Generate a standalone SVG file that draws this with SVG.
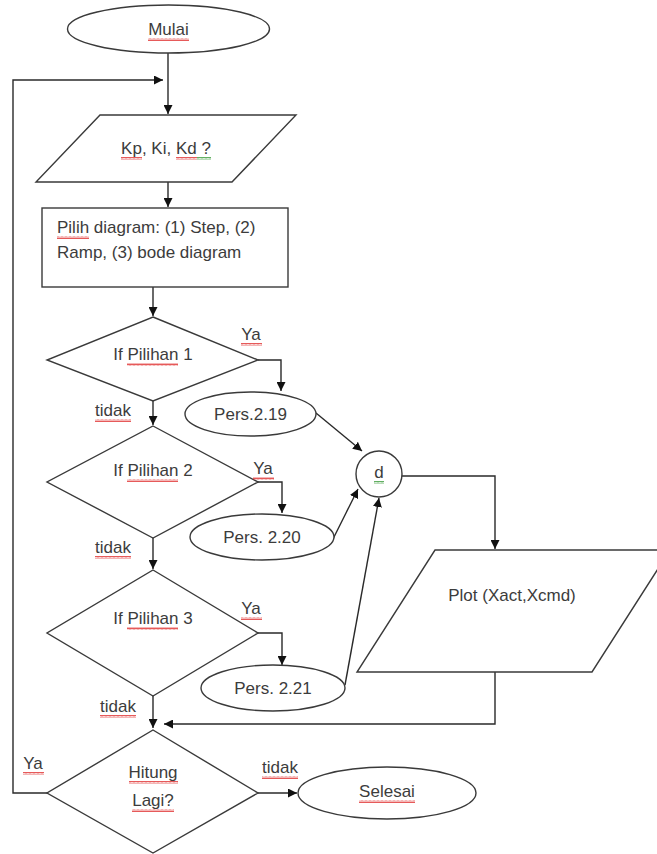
<svg xmlns="http://www.w3.org/2000/svg" width="657" height="854" viewBox="0 0 657 854">
<style>
.s{fill:#fff;stroke:#3a3a3a;stroke-width:1.4}
.c{fill:none;stroke:#2a2a2a;stroke-width:1.4}
.t{font-family:"Liberation Sans",Arial,sans-serif;font-size:17px;fill:#3c3c3c;text-anchor:middle;dominant-baseline:central}
.tl{text-anchor:start}
.wr{fill:url(#wavyR)}
.wg{fill:url(#wavyG)}
</style>
<defs>
<marker id="ah" viewBox="0 0 10 10" refX="10" refY="5" markerWidth="9" markerHeight="9" markerUnits="userSpaceOnUse" orient="auto">
<path d="M0,0 L10,5 L0,10 z" fill="#111"/>
</marker>
<pattern id="wavyR" width="4" height="3" patternUnits="userSpaceOnUse">
<path d="M0,2.5 L1,0.5 L2,2.5 L3,0.5 L4,2.5" fill="none" stroke="#e03030" stroke-width="0.8"/>
</pattern>
<pattern id="wavyG" width="4" height="3" patternUnits="userSpaceOnUse">
<path d="M0,2.5 L1,0.5 L2,2.5 L3,0.5 L4,2.5" fill="none" stroke="#3a9a3a" stroke-width="0.8"/>
</pattern>
</defs>

<g id="connectors">
<line class="c" x1="168" y1="53" x2="168" y2="114" marker-end="url(#ah)"/>
<polyline class="c" points="47,793 13,793 13,80 163,80" marker-end="url(#ah)"/>
<line class="c" x1="168" y1="182" x2="168" y2="207" marker-end="url(#ah)"/>
<line class="c" x1="153" y1="287" x2="153" y2="316" marker-end="url(#ah)"/>
<polyline class="c" points="258,360 281,360 281,391" marker-end="url(#ah)"/>
<line class="c" x1="153" y1="401" x2="153" y2="425" marker-end="url(#ah)"/>
<polyline class="c" points="258,482 282,482 282,513" marker-end="url(#ah)"/>
<line class="c" x1="153" y1="538" x2="153" y2="569" marker-end="url(#ah)"/>
<polyline class="c" points="258,633 282,633 282,665" marker-end="url(#ah)"/>
<line class="c" x1="153" y1="696" x2="153" y2="728" marker-end="url(#ah)"/>
<polyline class="c" points="495,672 495,724 164,724" marker-end="url(#ah)"/>
<line class="c" x1="258" y1="793" x2="297" y2="793" marker-end="url(#ah)"/>
<line class="c" x1="316" y1="413" x2="362" y2="451" marker-end="url(#ah)"/>
<line class="c" x1="333" y1="539" x2="358" y2="489" marker-end="url(#ah)"/>
<line class="c" x1="345" y1="685" x2="379" y2="498" marker-end="url(#ah)"/>
<polyline class="c" points="402,476 495,476 495,549" marker-end="url(#ah)"/>
</g>

<g id="mulai">
<ellipse class="s" cx="168.5" cy="29" rx="101" ry="24"/>
<text class="t" x="168.5" y="29">Mulai</text>
<rect class="wr" x="148" y="38" width="41" height="3"/>
</g>

<g id="input-k">
<polygon class="s" points="100,115 296,115 232,182 36,182"/>
<text class="t" x="166" y="148">Kp, Ki, Kd ?</text>
<rect class="wr" x="121" y="157" width="21" height="3"/>
<rect class="wr" x="176" y="157" width="21" height="3"/>
<rect class="wg" x="197" y="157" width="14" height="3"/>
</g>

<g id="pilih">
<rect class="s" x="42" y="208" width="246" height="79"/>
<text class="t tl" x="57" y="227">Pilih diagram: (1) Step, (2)</text>
<text class="t tl" x="57" y="252">Ramp, (3) bode diagram</text>
<rect class="wr" x="57" y="236" width="32" height="3"/>
</g>

<g id="if1">
<polygon class="s" points="153,317 258,360 153,401 47,360"/>
<text class="t" x="153" y="354">If Pilihan 1</text>
<rect class="wr" x="127" y="363" width="51" height="3"/>
</g>

<g id="if2">
<polygon class="s" points="153,426 258,482 153,538 47,482"/>
<text class="t" x="153" y="470">If Pilihan 2</text>
<rect class="wr" x="127" y="479" width="51" height="3"/>
</g>

<g id="if3">
<polygon class="s" points="153,570 258,633 153,696 47,633"/>
<text class="t" x="153" y="618">If Pilihan 3</text>
<rect class="wr" x="127" y="627" width="51" height="3"/>
</g>

<g id="hitung">
<polygon class="s" points="153,730 258,793 153,853 47,793"/>
<text class="t" x="153" y="772">Hitung</text>
<text class="t" x="153" y="800">Lagi?</text>
<rect class="wr" x="129" y="781" width="49" height="3"/>
<rect class="wr" x="132" y="809" width="42" height="3"/>
</g>

<g id="pers219">
<ellipse class="s" cx="250.5" cy="414" rx="65.5" ry="22"/>
<text class="t" x="250.5" y="414">Pers.2.19</text>
</g>

<g id="pers220">
<ellipse class="s" cx="262" cy="537" rx="72" ry="23"/>
<text class="t" x="262" y="537">Pers. 2.20</text>
</g>

<g id="pers221">
<ellipse class="s" cx="273" cy="688" rx="72" ry="23"/>
<text class="t" x="273" y="688">Pers. 2.21</text>
</g>

<g id="d">
<circle class="s" cx="379" cy="474" r="23"/>
<text class="t" x="379" y="472">d</text>
<rect class="wg" x="374" y="481" width="10" height="3"/>
</g>

<g id="plot">
<polygon class="s" points="435,550 670,550 592,672 357,672"/>
<text class="t" x="512" y="595">Plot (Xact,Xcmd)</text>
</g>

<g id="selesai">
<ellipse class="s" cx="387" cy="793" rx="89" ry="26"/>
<text class="t" x="387" y="791">Selesai</text>
<rect class="wr" x="359" y="800" width="56" height="3"/>
</g>

<g id="labels">
<text class="t" x="251" y="334">Ya</text>
<rect class="wr" x="241" y="343" width="21" height="3"/>
<text class="t" x="263" y="468">Ya</text>
<rect class="wr" x="253" y="477" width="21" height="3"/>
<text class="t" x="251" y="608">Ya</text>
<rect class="wr" x="241" y="617" width="21" height="3"/>
<text class="t" x="33" y="763">Ya</text>
<rect class="wr" x="23" y="772" width="21" height="3"/>
<text class="t" x="113" y="410">tidak</text>
<rect class="wr" x="95" y="419" width="36" height="3"/>
<text class="t" x="113" y="547">tidak</text>
<rect class="wr" x="95" y="556" width="36" height="3"/>
<text class="t" x="118" y="706">tidak</text>
<rect class="wr" x="100" y="715" width="36" height="3"/>
<text class="t" x="280" y="767">tidak</text>
<rect class="wr" x="262" y="776" width="36" height="3"/>
</g>
</svg>
